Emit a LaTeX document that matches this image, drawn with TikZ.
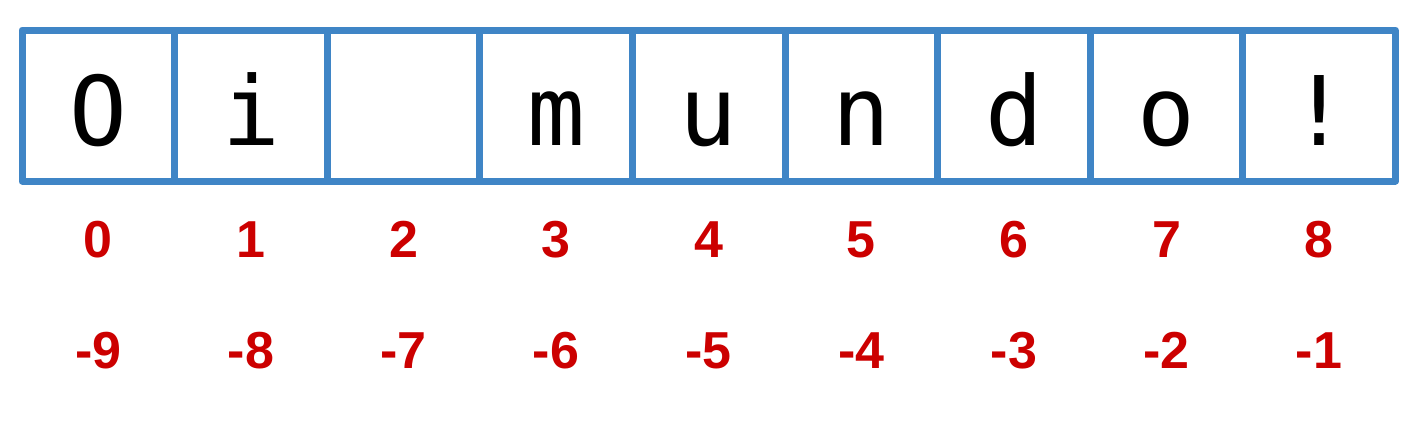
\documentclass[tikz,border=0pt]{standalone}
\usepackage{fontspec}
\setmainfont{Liberation Sans}
\newfontfamily\cellfont{DejaVu Sans Mono}
\definecolor{boxblue}{HTML}{3F85C6}
\definecolor{idxred}{HTML}{CC0000}
\tikzset{
  cellbox/.style={draw=boxblue, line width=7pt, line join=round, minimum width=152.6pt, minimum height=151pt, inner sep=0pt, outer sep=0pt},
  chartext/.style={anchor=base, font=\cellfont\fontsize{96}{96}\selectfont, text=black, inner sep=0pt},
  idx/.style={anchor=base, font=\bfseries\fontsize{52}{52}\selectfont, text=idxred, inner sep=0pt}
}
\begin{document}
\begin{tikzpicture}[x=1pt,y=-1pt]
\useasboundingbox (0,0) rectangle (1425,426);
\foreach \ch [count=\i from 0] in {O,i,{},m,u,n,d,o,!}{
  \pgfmathsetmacro{\cx}{22+76.3+152.6*\i}
  \node[cellbox] (c\i) at (\cx,105.5) {};
  \node[chartext] (t\i) at (\cx,145) {\ch};
}
\foreach \i in {0,...,8}{
  \pgfmathsetmacro{\cx}{22+76.3+152.6*\i}
  \pgfmathtruncatemacro{\neg}{\i-9}
  \node[idx] (p\i) at (\cx,257) {\i};
  \node[idx] (n\i) at (\cx,368) {\neg};
}
\end{tikzpicture}
\end{document}
